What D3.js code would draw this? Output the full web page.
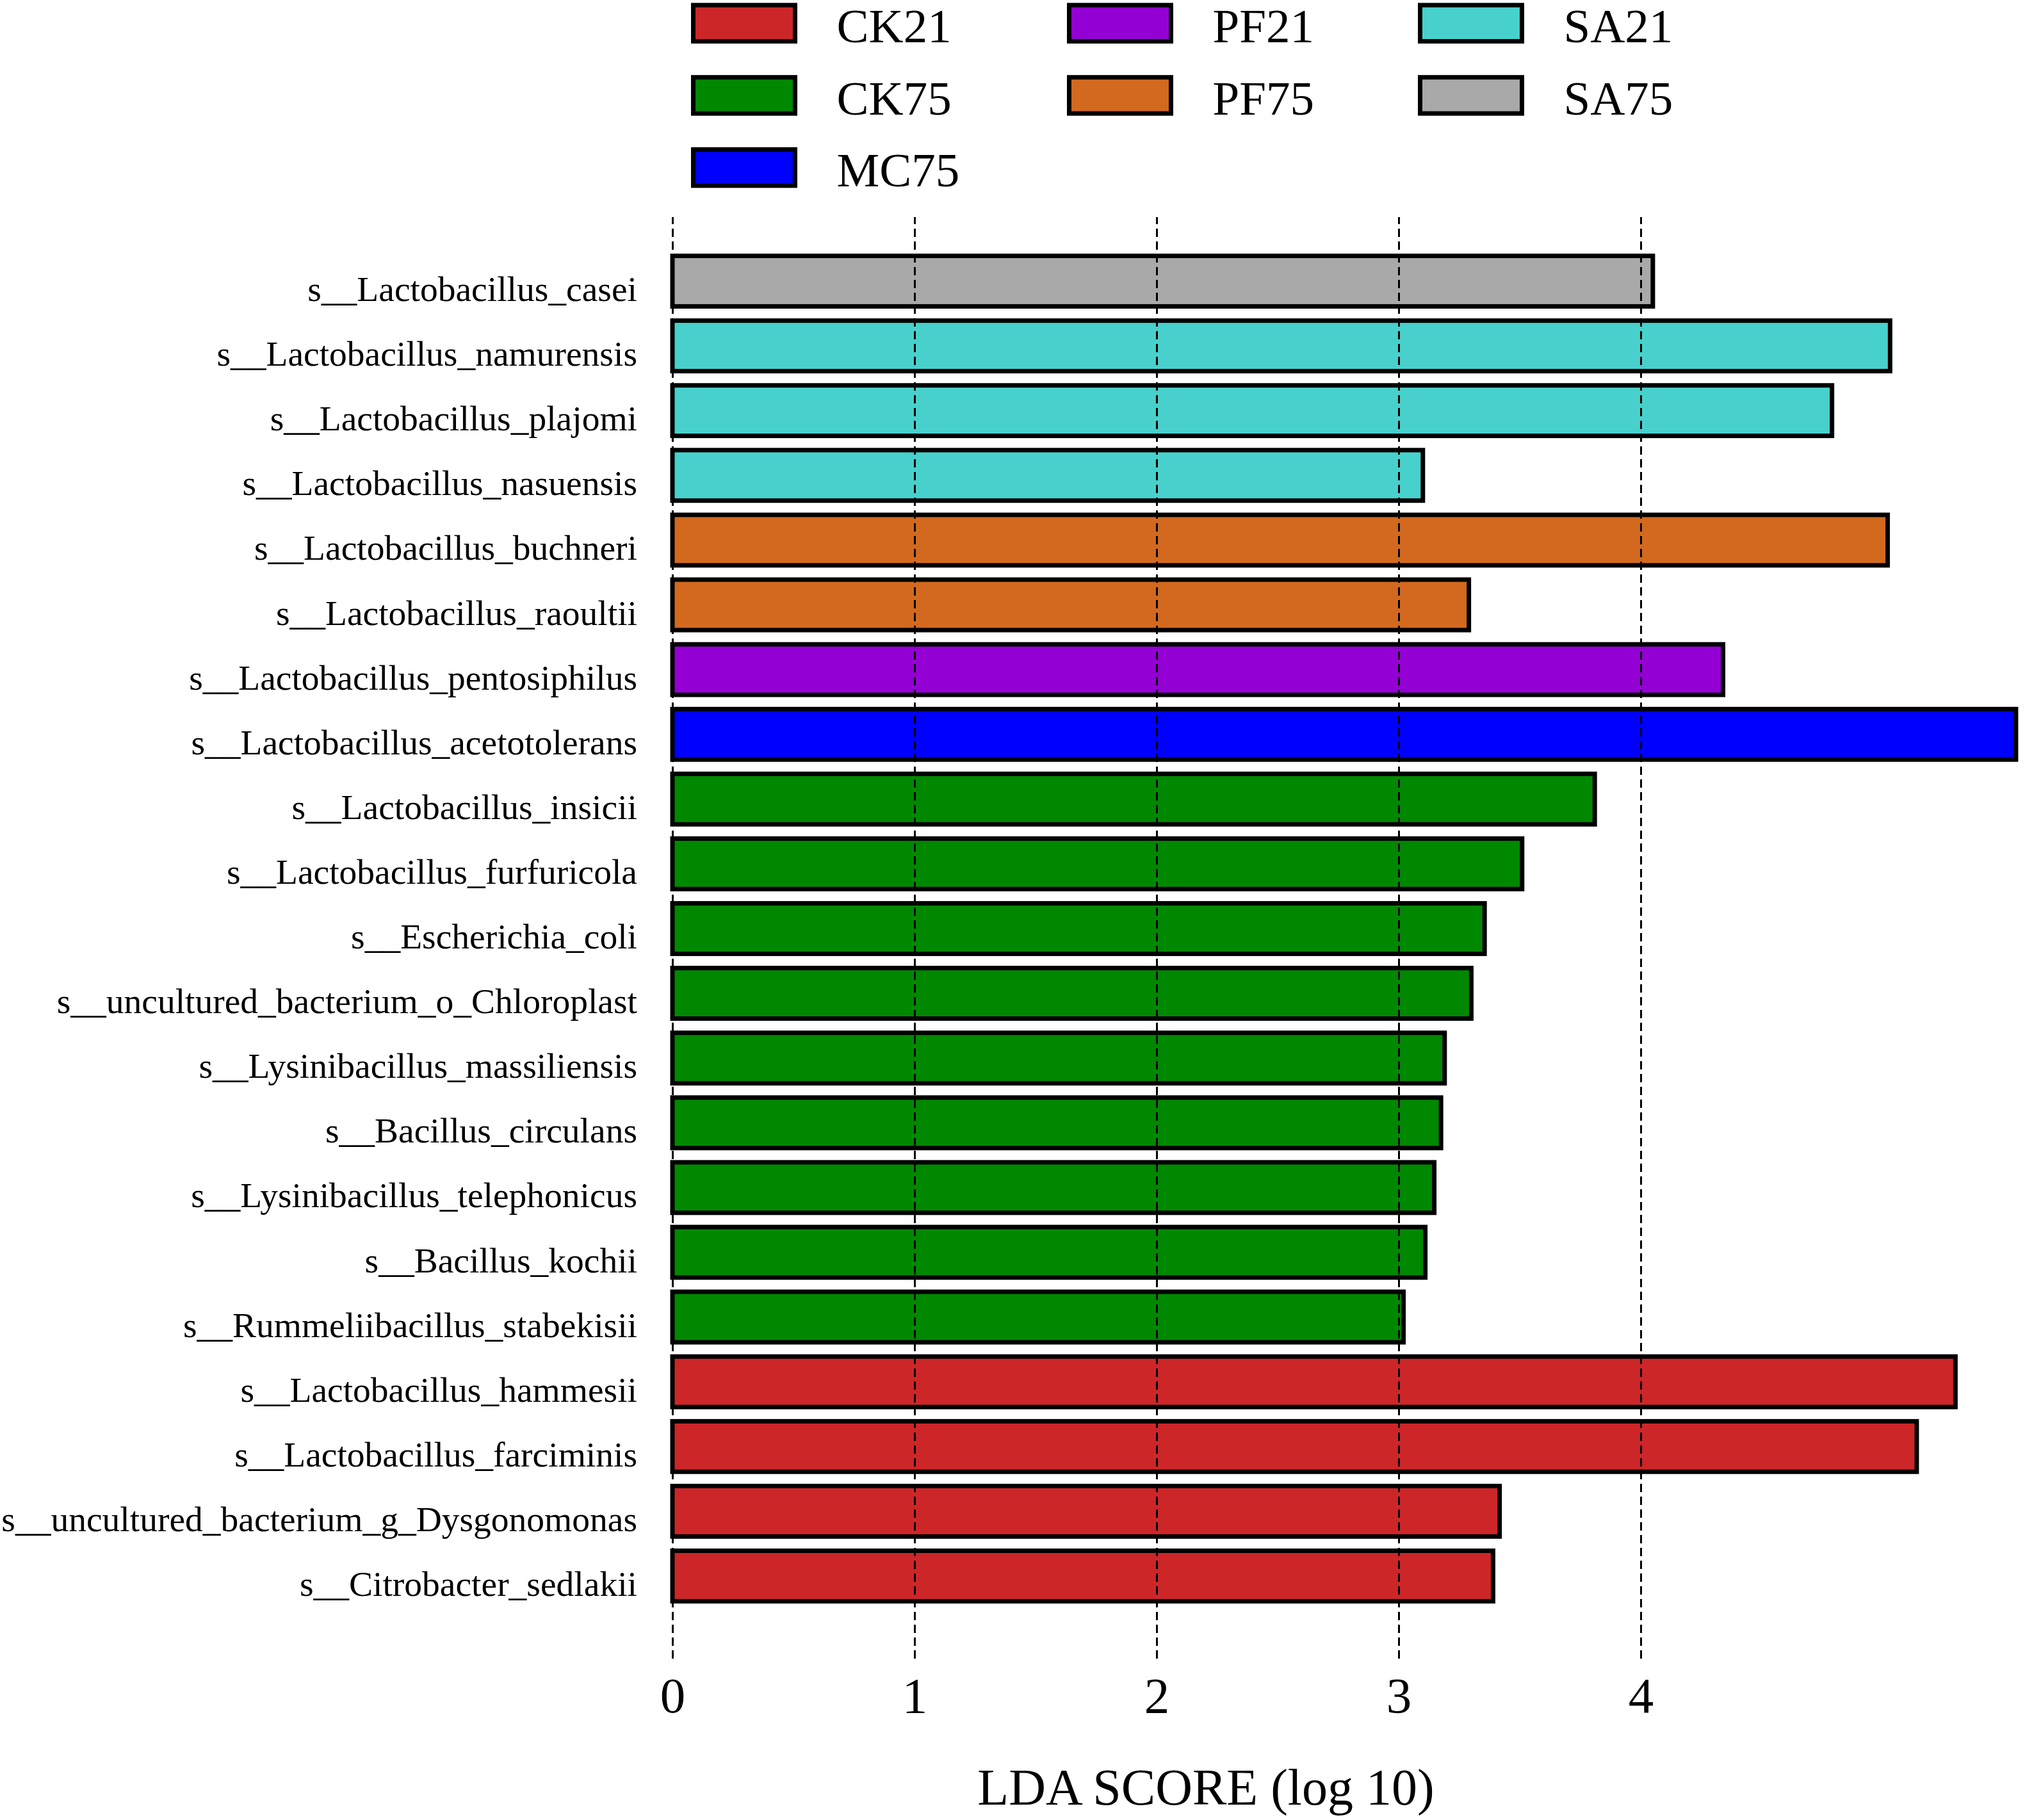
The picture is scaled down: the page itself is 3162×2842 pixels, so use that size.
<!DOCTYPE html>
<html>
<head>
<meta charset="utf-8">
<script src="https://cdn.jsdelivr.net/npm/d3@7"></script>
<style>
  html, body { margin: 0; padding: 0; background: #fff; }
  svg { display: block; }
  svg text { font-family: "Liberation Serif", "Times New Roman", serif !important; fill: #000; }
</style>
</head>
<body>
<svg id="chart" width="3162" height="2842"></svg>
<script>
// ---------- data ----------
const taxa = [
  "s__Lactobacillus_casei",
  "s__Lactobacillus_namurensis",
  "s__Lactobacillus_plajomi",
  "s__Lactobacillus_nasuensis",
  "s__Lactobacillus_buchneri",
  "s__Lactobacillus_raoultii",
  "s__Lactobacillus_pentosiphilus",
  "s__Lactobacillus_acetotolerans",
  "s__Lactobacillus_insicii",
  "s__Lactobacillus_furfuricola",
  "s__Escherichia_coli",
  "s__uncultured_bacterium_o_Chloroplast",
  "s__Lysinibacillus_massiliensis",
  "s__Bacillus_circulans",
  "s__Lysinibacillus_telephonicus",
  "s__Bacillus_kochii",
  "s__Rummeliibacillus_stabekisii",
  "s__Lactobacillus_hammesii",
  "s__Lactobacillus_farciminis",
  "s__uncultured_bacterium_g_Dysgonomonas",
  "s__Citrobacter_sedlakii"
];
const ldaScores = [
  4.05, 5.03, 4.79, 3.10, 5.02, 3.29, 4.34, 5.55,
  3.81, 3.51, 3.355, 3.30, 3.19, 3.175, 3.147, 3.11, 3.02,
  5.30, 5.14, 3.417, 3.39
];
const taxaGroup = [
  "SA75", "SA21", "SA21", "SA21", "PF75", "PF75", "PF21", "MC75",
  "CK75", "CK75", "CK75", "CK75", "CK75", "CK75", "CK75", "CK75", "CK75",
  "CK21", "CK21", "CK21", "CK21"
];
const legendGroups = ["CK21", "PF21", "SA21", "CK75", "PF75", "SA75", "MC75"];
const groupNames  = ["CK21", "CK75", "MC75", "PF21", "PF75", "SA21", "SA75"];
const groupColors = ["#CD2628", "#008800", "#0000FF", "#9400D3", "#D2691E", "#48D1CC", "#A9A9A9"];
const xTicks = [0, 1, 2, 3, 4];
const xTitle = "LDA SCORE (log 10)";

// ---------- layout ----------
const FONT = '"Liberation Serif", "Times New Roman", serif';
const svg = d3.select("#chart");
svg.append("rect").attr("width", 3162).attr("height", 2842).attr("fill", "#fff");

const x0 = 1050, unit = 378;
const x = d3.scaleLinear().domain([0, 1]).range([x0, x0 + unit]);
const y = d3.scaleBand().domain(taxa).range([388.45, 2511.55]).paddingInner(0.22).paddingOuter(0.11);
const color = d3.scaleOrdinal().domain(groupNames).range(groupColors);

const rows = taxa.map((t, i) => ({ taxon: t, value: ldaScores[i], group: taxaGroup[i] }));

// bars
svg.append("g").selectAll("rect").data(rows).join("rect")
  .attr("x", x(0))
  .attr("y", d => y(d.taxon))
  .attr("width", d => x(d.value) - x(0))
  .attr("height", y.bandwidth())
  .attr("fill", d => color(d.group))
  .attr("stroke", "#000")
  .attr("stroke-width", 7);

// dashed vertical grid lines (on top of bars)
const gridTop = 339, gridBottom = 2590;
const grid = svg.append("g").attr("transform", `translate(0,${gridBottom})`)
  .call(d3.axisBottom(x).tickValues(xTicks).tickSize(-(gridBottom - gridTop)).tickFormat(""));
grid.select(".domain").remove();
grid.selectAll(".tick line")
  .attr("stroke", "#000").attr("stroke-width", 3).attr("stroke-dasharray", "13,7");

// x tick labels
const xAxis = svg.append("g")
  .call(d3.axisBottom(x).tickValues(xTicks).tickSize(0).tickFormat(d3.format("d")));
xAxis.attr("font-family", null).attr("font-size", null);
xAxis.select(".domain").remove();
xAxis.selectAll(".tick text")
  .attr("y", 2674).attr("dy", 0)
  .style("font-family", FONT)
  .style("font-size", "79px")
  .attr("fill", "#000");

// y labels
const yAxis = svg.append("g").attr("transform", `translate(${x0},0)`)
  .call(d3.axisLeft(y).tickSize(0).tickPadding(55));
yAxis.attr("font-family", null).attr("font-size", null);
yAxis.select(".domain").remove();
yAxis.selectAll(".tick text")
  .attr("dy", 31)
  .style("font-family", FONT)
  .style("font-size", "55.5px")
  .attr("fill", "#000");

// x title
svg.append("text")
  .attr("x", 1883).attr("y", 2818)
  .attr("text-anchor", "middle")
  .style("font-family", FONT)
  .style("font-size", "80px")
  .text(xTitle);

// legend
const legendColX = [1082.5, 1669.5, 2217.5];
const legendRowY = [8, 120.7, 233.4];
const leg = svg.append("g").selectAll("g").data(legendGroups).join("g")
  .attr("transform", (d, i) => `translate(${legendColX[i % 3]},${legendRowY[Math.floor(i / 3)]})`);
leg.append("rect")
  .attr("width", 159).attr("height", 56.5)
  .attr("fill", d => color(d))
  .attr("stroke", "#000").attr("stroke-width", 7);
leg.append("text")
  .attr("x", 224).attr("y", 58)
  .style("font-family", FONT)
  .style("font-size", "75px")
  .text(d => d);
</script>
</body>
</html>
